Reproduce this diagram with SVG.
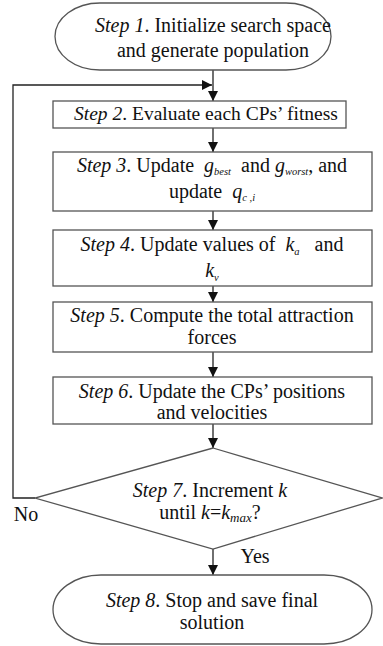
<svg xmlns="http://www.w3.org/2000/svg" width="383" height="646" viewBox="0 0 383 646">
<defs>
<style>
.box{fill:#fff;stroke:#555;stroke-width:1.3}
text{font-family:'Liberation Serif','DejaVu Serif',serif;font-size:20px;fill:#111;text-anchor:middle}
.i{font-style:italic}
.s{font-size:10.5px;font-style:italic}
.c{fill:none;stroke:#222;stroke-width:1.3}
</style>
<marker id="ah" viewBox="0 0 10 10" refX="10" refY="5" markerWidth="10" markerHeight="10" markerUnits="userSpaceOnUse" orient="auto">
<path d="M0,0 L10,5 L0,10 z" fill="#111"/>
</marker>
</defs>
<rect width="383" height="646" fill="#fff"/>
<g id="connectors">
<line class="c" x1="213" y1="70" x2="213" y2="101" marker-end="url(#ah)"/>
<path class="c" d="M35,498 H13 V85 H212" marker-end="url(#ah)"/>
<line class="c" x1="213" y1="128" x2="213" y2="152" marker-end="url(#ah)"/>
<line class="c" x1="213" y1="211" x2="213" y2="230" marker-end="url(#ah)"/>
<line class="c" x1="213" y1="286" x2="213" y2="302" marker-end="url(#ah)"/>
<line class="c" x1="213" y1="352" x2="213" y2="377" marker-end="url(#ah)"/>
<line class="c" x1="213" y1="424" x2="213" y2="448" marker-end="url(#ah)"/>
<line class="c" x1="213" y1="549" x2="213" y2="575" marker-end="url(#ah)"/>
<text x="26" y="521">No</text>
<text x="255" y="563">Yes</text>
</g>
<g id="step1">
<rect class="box" x="55" y="3" width="276" height="67" rx="45" ry="33.5"/>
<text x="213" y="32"><tspan class="i">Step 1</tspan>. Initialize search space</text>
<text x="213" y="57">and generate population</text>
</g>
<g id="step2">
<rect class="box" x="53" y="101" width="293" height="27"/>
<text x="206" y="120" style="font-size:19.5px"><tspan class="i">Step 2</tspan>. Evaluate each CPs’ fitness</text>
</g>
<g id="step3">
<rect class="box" x="53" y="152" width="319" height="59"/>
<text x="212" y="172" xml:space="preserve"><tspan class="i">Step 3</tspan>. Update  <tspan class="i">g</tspan><tspan class="s" dy="3">best</tspan><tspan dy="-3">  and </tspan><tspan class="i">g</tspan><tspan class="s" dy="3">worst</tspan><tspan dy="-3">, and</tspan></text>
<text x="212" y="198" xml:space="preserve">update  <tspan class="i">q</tspan><tspan class="s" dy="3">c ,i</tspan></text>
</g>
<g id="step4">
<rect class="box" x="53" y="230" width="319" height="56"/>
<text x="212" y="251" xml:space="preserve"><tspan class="i">Step 4</tspan>. Update values of  <tspan class="i">k</tspan><tspan class="s" dy="4">a</tspan><tspan dy="-4">   and</tspan></text>
<text x="212" y="277"><tspan class="i">k</tspan><tspan class="s" dy="4">v</tspan></text>
</g>
<g id="step5">
<rect class="box" x="53" y="302" width="319" height="50"/>
<text x="212" y="322"><tspan class="i">Step 5</tspan>. Compute the total attraction</text>
<text x="212" y="344">forces</text>
</g>
<g id="step6">
<rect class="box" x="53" y="377" width="319" height="47"/>
<text x="212" y="398"><tspan class="i">Step 6</tspan>. Update the CPs’ positions</text>
<text x="212" y="419">and velocities</text>
</g>
<g id="step7">
<polygon class="box" points="213,448 382,498 213,549 35,498"/>
<text x="210" y="497"><tspan class="i">Step 7</tspan>. Increment <tspan class="i">k</tspan></text>
<text x="210" y="519">until <tspan class="i">k</tspan>=<tspan class="i">k</tspan><tspan class="s" dy="3" style="font-size:13px">max</tspan><tspan dy="-3">?</tspan></text>
</g>
<g id="step8">
<rect class="box" x="53" y="575" width="319" height="69" rx="48" ry="34.5"/>
<text x="212" y="607"><tspan class="i">Step 8</tspan>. Stop and save final</text>
<text x="212" y="629">solution</text>
</g>
</svg>
